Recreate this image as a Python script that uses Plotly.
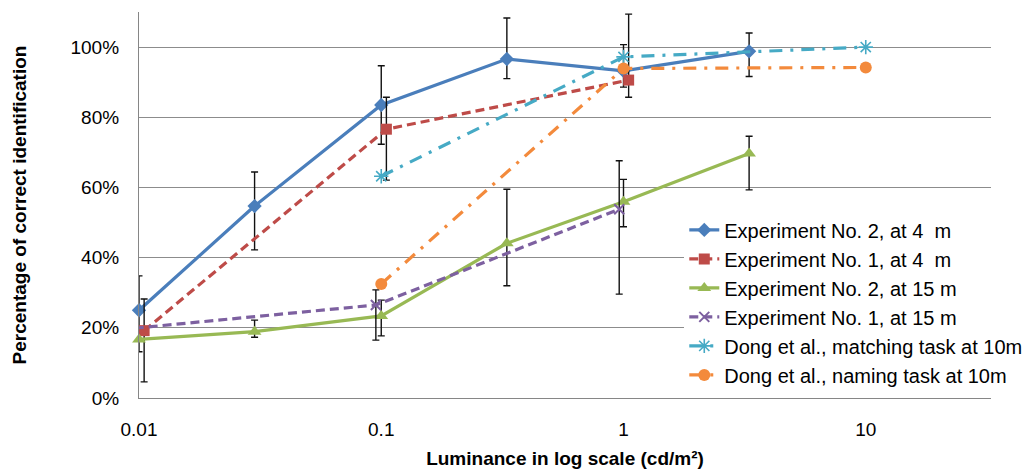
import plotly.graph_objects as go

# ---- data (percent) ----
exp2_4m_x = [0.01, 0.03, 0.1, 0.33, 1.0, 3.3]
exp2_4m_y = [25.0, 54.7, 83.5, 96.6, 93.2, 98.8]
exp2_4m_ep = [9.8, 9.7, 11.2, 11.7, 7.5, 5.2]
exp2_4m_em = [11.8, 12.5, 11.2, 5.6, 4.6, 7.2]

exp1_4m_x = [0.0105, 0.105, 1.05]
exp1_4m_y = [19.2, 76.6, 90.6]
exp1_4m_ep = [9.0, 9.1, 18.8]
exp1_4m_em = [14.6, 14.5, 4.9]

exp2_15m_x = [0.01, 0.03, 0.1, 0.33, 1.0, 3.3]
exp2_15m_y = [16.7, 18.9, 23.4, 44.1, 55.9, 69.7]
exp2_15m_ep = [0.0, 3.3, 4.5, 15.4, 6.4, 4.9]
exp2_15m_em = [0.0, 1.6, 5.7, 12.1, 7.1, 10.4]

exp1_15m_x = [0.0096, 0.095, 0.96]
exp1_15m_y = [19.9, 26.5, 53.8]
exp1_15m_ep = [3.7, 4.3, 13.8]
exp1_15m_em = [5.5, 10.0, 24.2]

dong_match_x = [0.1, 1.0, 10.0]
dong_match_y = [63.2, 97.2, 100.0]

dong_name_x = [0.1, 1.0, 10.0]
dong_name_y = [32.5, 93.9, 94.2]

x_tickvals = [0.01, 0.1, 1, 10]
x_ticktext = ["0.01", "0.1", "1", "10"]
y_tickvals = [0, 20, 40, 60, 80, 100]

FONT = "Liberation Sans, Arial, sans-serif"


def frac(v):
    return [a / 100.0 for a in v]


def err(p, m):
    return dict(type="data", symmetric=False, array=frac(p), arrayminus=frac(m),
                color="#111111", thickness=1.4, width=3.5)


fig = go.Figure()

fig.add_trace(go.Scatter(
    x=exp2_4m_x, y=frac(exp2_4m_y), name="Experiment No. 2, at 4  m",
    mode="lines+markers", line=dict(color="#4A7EBB", width=3.2),
    marker=dict(symbol="diamond", size=11, color="#4A7EBB"),
    error_y=err(exp2_4m_ep, exp2_4m_em), cliponaxis=False))

fig.add_trace(go.Scatter(
    x=exp1_4m_x, y=frac(exp1_4m_y), name="Experiment No. 1, at 4  m",
    mode="lines+markers", line=dict(color="#BE4B48", width=3.2, dash="9px,5px"),
    marker=dict(symbol="square", size=11, color="#BE4B48"),
    error_y=err(exp1_4m_ep, exp1_4m_em), cliponaxis=False))

fig.add_trace(go.Scatter(
    x=exp2_15m_x, y=frac(exp2_15m_y), name="Experiment No. 2, at 15 m",
    mode="lines+markers", line=dict(color="#98B954", width=3.2),
    marker=dict(symbol="triangle-up", size=12, color="#98B954"),
    error_y=err(exp2_15m_ep, exp2_15m_em), cliponaxis=False))

fig.add_trace(go.Scatter(
    x=exp1_15m_x, y=frac(exp1_15m_y), name="Experiment No. 1, at 15 m",
    mode="lines+markers", line=dict(color="#7D60A0", width=3.2, dash="9px,5px"),
    marker=dict(symbol="x-thin-open", size=10, color="#7D60A0",
                line=dict(width=2, color="#7D60A0")),
    error_y=err(exp1_15m_ep, exp1_15m_em), cliponaxis=False))

fig.add_trace(go.Scatter(
    x=dong_match_x, y=frac(dong_match_y), name="Dong et al., matching task at 10m",
    mode="lines+markers", line=dict(color="#46AAC5", width=3.2, dash="13px,8px,3px,8px"),
    marker=dict(symbol="asterisk-open", size=12, color="#46AAC5",
                line=dict(width=1.6, color="#46AAC5")),
    cliponaxis=False))

fig.add_trace(go.Scatter(
    x=dong_name_x, y=frac(dong_name_y), name="Dong et al., naming task at 10m",
    mode="lines+markers", line=dict(color="#F38A3C", width=3.2, dash="13px,8px,3px,8px"),
    marker=dict(symbol="circle", size=12, color="#F38A3C"),
    cliponaxis=False))

fig.update_layout(
    width=1029, height=470,
    margin=dict(l=139, r=38, t=12, b=72, autoexpand=False),
    paper_bgcolor="white", plot_bgcolor="white",
    font=dict(family=FONT, size=19, color="black"),
    showlegend=True,
    legend=dict(x=0.64, y=0.486, xanchor="left", yanchor="top",
                bgcolor="white", borderwidth=0,
                font=dict(family=FONT, size=20, color="black"),
                itemwidth=30),
    xaxis=dict(
        type="log", range=[-2, 1.517], automargin=False,
        tickvals=x_tickvals, ticktext=x_ticktext,
        showgrid=False, zeroline=False,
        showline=True, linecolor="#868686", linewidth=1.2,
        ticks="", ticklabelstandoff=14,
        tickfont=dict(family=FONT, size=19, color="black"),
        title=dict(text="<b>Luminance in log scale (cd/m²)</b>", standoff=12,
                   font=dict(family=FONT, size=19, color="black")),
    ),
    yaxis=dict(
        range=[0, 1.1], automargin=False,
        tickvals=frac(y_tickvals), tickformat=".0%",
        showgrid=True, gridcolor="#8c8c8c", gridwidth=1.2,
        zeroline=False,
        showline=True, linecolor="#868686", linewidth=1.2,
        ticks="", ticklabelstandoff=15,
        tickfont=dict(family=FONT, size=19, color="black"),
        title=dict(text="<b>Percentage of correct identification</b>", standoff=38,
                   font=dict(family=FONT, size=19, color="black")),
    ),
)

fig.write_html("out.html")
